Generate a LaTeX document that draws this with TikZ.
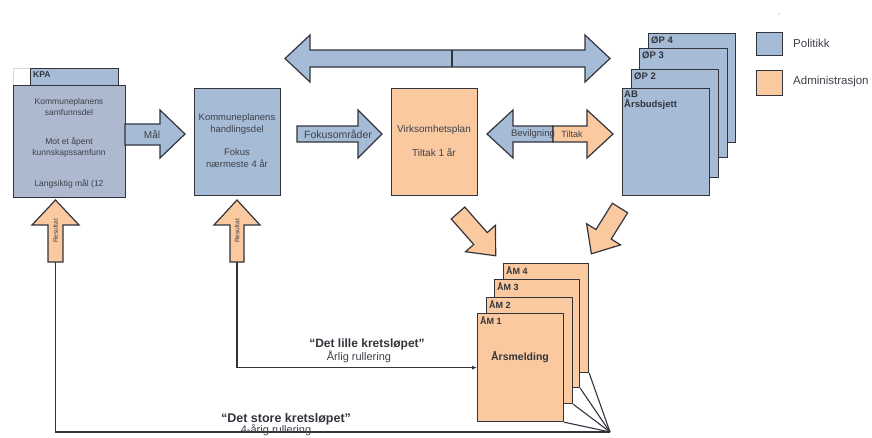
\documentclass[tikz,border=0pt]{standalone}
\usepackage{fontspec}
\setmainfont{Liberation Sans}
\usetikzlibrary{arrows.meta}
\definecolor{polblue}{RGB}{166,188,214}
\definecolor{kpablue}{RGB}{172,185,206}
\definecolor{admorange}{RGB}{250,201,160}
\definecolor{edge}{RGB}{50,52,60}
\definecolor{txt}{RGB}{62,64,74}
\newcommand{\fsz}[2]{\fontsize{#1}{#2}\selectfont}
\tikzset{
  box/.style={draw=edge, line width=1.2pt},
  pol/.style={box, fill=polblue},
  kpa/.style={box, fill=kpablue},
  adm/.style={box, fill=admorange},
  page/.style={anchor=north west, inner sep=0pt, minimum width=86pt, minimum height=108pt},
  btxt/.style={text=txt, align=center, inner sep=0pt},
  lbl/.style={anchor=north west, inner sep=0pt, font=\bfseries\fsz{9.5}{11}, text=edge},
  conn/.style={draw=edge, line width=1.1pt},
}
\begin{document}
\begin{tikzpicture}[x=1pt,y=-1pt]
\path[use as bounding box] (0,0) rectangle (872,437);

% ---- KPA
\draw[gray!30, line width=0.6pt] (13,68) rectangle (30,85);
\node[pol, anchor=north west, inner sep=0pt, minimum width=88pt, minimum height=17pt] (kpatab) at (30,68) {};
\node[lbl, font=\bfseries\fsz{8.5}{10}] (kpalbl) at (33,71) {KPA};
\node[kpa, anchor=north west, inner sep=0pt, minimum width=112pt, minimum height=112pt] (kpa) at (13,85) {};
\node[btxt, font=\fsz{8.5}{11}] (kpat1) at (69,106.5) {Kommuneplanens\\samfunnsdel};
\node[btxt, font=\fsz{8.5}{11}] (kpat2) at (69,147.5) {Mot et åpent\\kunnskapssamfunn};
\node[btxt, font=\fsz{8.5}{11}] (kpat3) at (69,184) {Langsiktig mål (12};

% ---- Mål arrow
\draw[pol] (125,124) -- (160,124) -- (160,110) -- (185,134) -- (160,158) -- (160,145) -- (125,145) -- cycle;
\node[btxt, font=\fsz{10}{12}] (mal) at (152,134.5) {Mål};

% ---- Handlingsdel
\node[pol, anchor=north west, inner sep=0pt, minimum width=86pt, minimum height=107pt] (hd) at (194,88) {};
\node[btxt, font=\fsz{9.5}{12}] (hdt1) at (237,124) {Kommuneplanens\\handlingsdel};
\node[btxt, font=\fsz{9.5}{12}] (hdt2) at (237,158) {Fokus\\nærmeste 4 år};

% ---- top double arrow
\draw[pol] (285,58.5) -- (310,35) -- (310,50) -- (585,50) -- (585,35) -- (610,58.5) -- (585,82) -- (585,67) -- (310,67) -- (310,82) -- cycle;
\draw[box] (452,50) -- (452,67);

% ---- Fokusområder arrow
\draw[pol] (297,126) -- (358,126) -- (358,110) -- (382,134) -- (358,158) -- (358,142) -- (297,142) -- cycle;
\node[btxt, font=\fsz{10.5}{12}] (fok) at (338,134) {Fokusområder};

% ---- Virksomhetsplan
\node[adm, anchor=north west, inner sep=0pt, minimum width=86pt, minimum height=107pt] (vp) at (391,88) {};
\node[btxt, font=\fsz{10}{12}] (vpt1) at (434,130) {Virksomhetsplan};
\node[btxt, font=\fsz{10}{12}] (vpt2) at (434,153) {Tiltak 1 år};

% ---- Bevilgning / Tiltak
\draw[pol] (553,126) -- (513,126) -- (513,110) -- (487,134) -- (513,158) -- (513,142) -- (553,142) -- cycle;
\draw[adm] (553,126) -- (587,126) -- (587,110) -- (613,134) -- (587,158) -- (587,142) -- (553,142) -- cycle;
\node[btxt, font=\fsz{9.5}{12}] (bev) at (533,134) {Bevilgning};
\node[btxt, font=\fsz{9}{12}] (til) at (572,134) {Tiltak};

% ---- ØP stack
\node[pol, page, minimum width=87pt, minimum height=109pt] (op4) at (648,33) {};
\node[lbl] at (651,36) {ØP 4};
\node[pol, page, minimum width=88pt, minimum height=109pt] (op3) at (639,48) {};
\node[lbl] at (642,51) {ØP 3};
\node[pol, page, minimum width=87pt, minimum height=108pt] (op2) at (631,69) {};
\node[lbl] at (634,72) {ØP 2};
\node[pol, page, minimum width=87pt, minimum height=107pt] (ab) at (622,88) {};
\node[lbl, align=left, font=\bfseries\fsz{9.5}{9.5}] (abt) at (624,91) {AB\\Årsbudsjett};

% ---- legend
\fill[gray] (779,14) circle (0.7);
\node[pol, anchor=north west, inner sep=0pt, minimum width=26pt, minimum height=23pt] (legp) at (756,32) {};
\node[adm, anchor=north west, inner sep=0pt, minimum width=26pt, minimum height=25pt] (lega) at (756,70) {};
\node[anchor=west, inner sep=0pt, text=txt, font=\fsz{11.5}{13}] (legpt) at (793,43) {Politikk};
\node[anchor=west, inner sep=0pt, text=txt, font=\fsz{11.5}{13}] (legat) at (793,82) {Administrasjon};

% ---- diagonal arrows
\begin{scope}[shift={(458,213)}, rotate=-48.6]
  \draw[adm] (0,-9) -- (34,-9) -- (34,-20) -- (57,0) -- (34,20) -- (34,9) -- (0,9) -- cycle;
\end{scope}
\begin{scope}[shift={(620,208)}, rotate=-122]
  \draw[adm] (0,-9) -- (31,-9) -- (31,-20) -- (54,0) -- (31,20) -- (31,9) -- (0,9) -- cycle;
\end{scope}

% ---- ÅM stack
\node[adm, page, minimum width=85pt, minimum height=109pt] (am4) at (503,263) {};
\node[lbl, font=\bfseries\fsz{9}{10}] at (506,266) {ÅM 4};
\node[adm, page, minimum width=85pt, minimum height=108pt] (am3) at (494,279) {};
\node[lbl, font=\bfseries\fsz{9}{10}] at (497,282) {ÅM 3};
\node[adm, page, minimum width=86pt, minimum height=106pt] (am2) at (486,297) {};
\node[lbl, font=\bfseries\fsz{9}{10}] at (489,300) {ÅM 2};
\node[adm, page, minimum width=86pt, minimum height=108pt] (am1) at (477,313) {};
\node[lbl, font=\bfseries\fsz{9}{10}] at (480,316) {ÅM 1};
\node[btxt, text=edge, font=\bfseries\fsz{10.5}{12}] (arsm) at (520,357) {Årsmelding};

% ---- Resultat arrows
\draw[adm] (48,262) -- (48,225) -- (32,225) -- (55.5,200) -- (79,225) -- (63,225) -- (63,262) -- cycle;
\node[btxt, rotate=90, font=\fsz{6.5}{8}] (res1) at (55.5,231) {Resultat};
\coordinate (res1b) at (55.5,262);
\draw[adm] (230,262) -- (230,225) -- (214,225) -- (237,200) -- (260,225) -- (244,225) -- (244,262) -- cycle;
\node[btxt, rotate=90, font=\fsz{6.5}{8}] (res2) at (237,231) {Resultat};
\coordinate (res2b) at (237,262);

% ---- connectors
\coordinate (fan) at (610,432);
\draw[conn] (res1b) -- (res1b |- fan) -- (fan);
\draw[conn, -{Latex[length=5pt,width=4pt]}] (res2b) |- (am1.west);
\draw[conn] (am1.south east) -- (fan);
\draw[conn] (am2.south east) -- (fan);
\draw[conn] (am3.south east) -- (fan);
\draw[conn] (am4.south east) -- (fan);

% ---- loop labels
\node[inner sep=0pt, text=edge, font=\bfseries\fsz{12}{14}] (lille) at (367,344) {``Det lille kretsløpet''};
\node[inner sep=0pt, text=txt, font=\fsz{11}{13}] (lilleb) at (359,356.5) {Årlig rullering};
\node[inner sep=0pt, text=edge, font=\bfseries\fsz{12.5}{14}] (store) at (286,419) {``Det store kretsløpet''};
\node[inner sep=0pt, text=txt, font=\fsz{11}{13}] (storeb) at (276,430.5) {4-årig rullering};
\end{tikzpicture}
\end{document}
